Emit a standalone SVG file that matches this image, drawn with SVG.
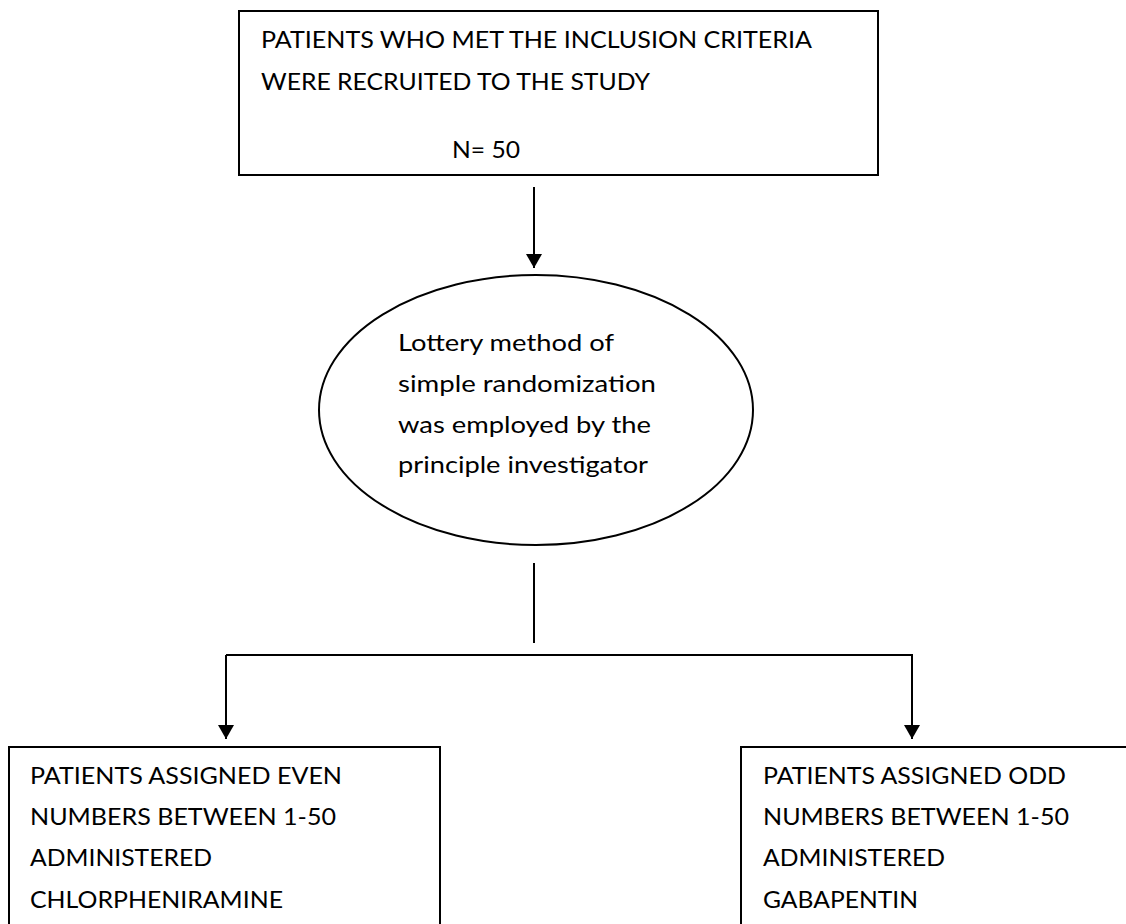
<svg xmlns="http://www.w3.org/2000/svg" width="1126" height="924" viewBox="0 0 1126 924">
<defs>
<style>
.box{fill:#fff;stroke:#000;stroke-width:2}
.ln{fill:none;stroke:#000;stroke-width:2}
text{font-family:Lato,"Open Sans","Liberation Sans",sans-serif;font-size:24px;fill:#000}
</style>
<marker id="ah" viewBox="0 0 14 16" refX="14" refY="8" markerWidth="14" markerHeight="16" markerUnits="userSpaceOnUse" orient="auto">
<path d="M0,0 L14,8 L0,16 Z" fill="#000"/>
</marker>
</defs>
<rect width="1126" height="924" fill="#fff"/>
<g id="connectors">
<line class="ln" x1="534" y1="187" x2="534" y2="268" marker-end="url(#ah)"/>
<line class="ln" x1="534" y1="563" x2="534" y2="643"/>
<line class="ln" x1="226" y1="655" x2="226" y2="739" marker-end="url(#ah)"/>
<polyline class="ln" points="226,655 912,655 912,739" marker-end="url(#ah)"/>
</g>
<g id="node-recruited">
<rect class="box" x="239" y="11" width="639" height="164"/>
<text x="261" y="48" textLength="551" lengthAdjust="spacingAndGlyphs">PATIENTS WHO MET THE INCLUSION CRITERIA</text>
<text x="261" y="90" textLength="389" lengthAdjust="spacingAndGlyphs">WERE RECRUITED TO THE STUDY</text>
<text x="452" y="158" textLength="68" lengthAdjust="spacingAndGlyphs">N= 50</text>
</g>
<g id="node-randomization">
<ellipse class="box" cx="536" cy="410" rx="217" ry="135"/>
<text x="398" y="351" textLength="216" lengthAdjust="spacingAndGlyphs">Lottery method of</text>
<text x="398" y="392" textLength="258" lengthAdjust="spacingAndGlyphs">simple randomization</text>
<text x="398" y="433" textLength="253" lengthAdjust="spacingAndGlyphs">was employed by the</text>
<text x="398" y="473" textLength="250" lengthAdjust="spacingAndGlyphs">principle investigator</text>
</g>
<g id="node-even">
<rect class="box" x="9" y="747" width="431" height="190"/>
<text x="30" y="784" textLength="312" lengthAdjust="spacingAndGlyphs">PATIENTS ASSIGNED EVEN</text>
<text x="30" y="825" textLength="306" lengthAdjust="spacingAndGlyphs">NUMBERS BETWEEN 1-50</text>
<text x="30" y="866" textLength="182" lengthAdjust="spacingAndGlyphs">ADMINISTERED</text>
<text x="30" y="908" textLength="253" lengthAdjust="spacingAndGlyphs">CHLORPHENIRAMINE</text>
</g>
<g id="node-odd">
<rect class="box" x="741" y="747" width="400" height="190"/>
<text x="763" y="784" textLength="303" lengthAdjust="spacingAndGlyphs">PATIENTS ASSIGNED ODD</text>
<text x="763" y="825" textLength="306" lengthAdjust="spacingAndGlyphs">NUMBERS BETWEEN 1-50</text>
<text x="763" y="866" textLength="182" lengthAdjust="spacingAndGlyphs">ADMINISTERED</text>
<text x="763" y="908" textLength="155" lengthAdjust="spacingAndGlyphs">GABAPENTIN</text>
</g>
</svg>
